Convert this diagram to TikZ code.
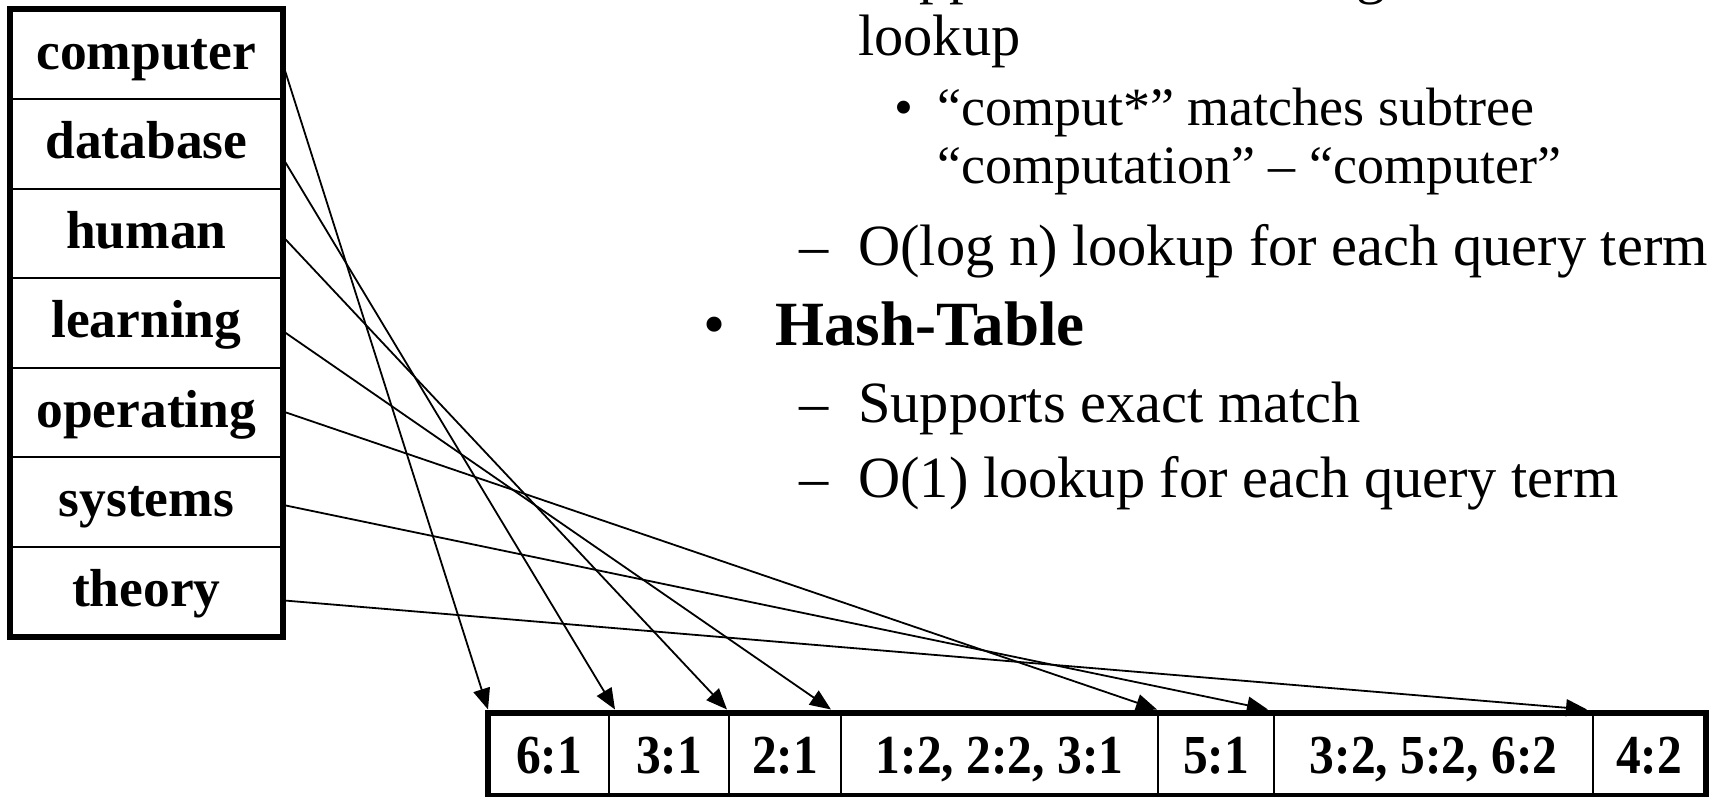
\documentclass[tikz,border=0pt]{standalone}
\usepackage{fontspec}
\setmainfont{Liberation Serif}
\newfontfamily\postingsfont[FakeStretch=0.9]{Liberation Serif}
\usetikzlibrary{arrows.meta}
\begin{document}
\begin{tikzpicture}[x=1pt,y=-1pt,
  term/.style={draw, line width=2.2pt, minimum width=270.5pt, minimum height=89.5pt,
    inner sep=0pt, font=\fontsize{53.5}{60}\selectfont\bfseries,
    text height=40pt, text depth=10pt, anchor=north west},
  post/.style={draw, line width=2.2pt, minimum height=81.5pt, inner sep=0pt,
    font=\postingsfont\fontsize{55}{60}\selectfont\bfseries,
    text height=44.8pt, text depth=6pt, anchor=north west},
  frame/.style={line width=6pt},
  link/.style={line width=1.8pt, -{Triangle[length=21pt,width=17pt]}},
  lvlone/.style={anchor=base west, inner sep=0pt, font=\fontsize{63}{68}\selectfont},
  lvltwo/.style={anchor=base west, inner sep=0pt, font=\fontsize{58.4}{63}\selectfont},
  lvlthree/.style={anchor=base west, inner sep=0pt, font=\fontsize{54}{58}\selectfont},
  ]
\useasboundingbox (0,0) rectangle (1709,796);
\clip (0,0) rectangle (1709,796);

% dictionary of terms
\node[term] (w1) at (10,8.5)   {computer};
\node[term] (w2) at (10,98)    {database};
\node[term] (w3) at (10,187.5) {human};
\node[term] (w4) at (10,277)   {learning};
\node[term] (w5) at (10,366.5) {operating};
\node[term] (w6) at (10,456)   {systems};
\node[term] (w7) at (10,545.5) {theory};
\draw[frame] (w1.north west) rectangle (w7.south east);

% postings lists
\node[post, minimum width=120pt] (p1) at (488,712.5)  {6:1};
\node[post, minimum width=120pt] (p2) at (608,712.5)  {3:1};
\node[post, minimum width=112pt] (p3) at (728,712.5)  {2:1};
\node[post, minimum width=317pt] (p4) at (840,712.5)  {1:2, 2:2, 3:1};
\node[post, minimum width=116pt] (p5) at (1157,712.5) {5:1};
\node[post, minimum width=319pt] (p6) at (1273,712.5) {3:2, 5:2, 6:2};
\node[post, minimum width=112pt] (p7) at (1592,712.5) {4:2};
\draw[frame] (p1.north west) rectangle (p7.south east);

% pointers from terms to their postings
\draw[link] ([yshift=-9pt]w1.east)  -- ([yshift=3pt]p1.north west);
\draw[link] ([yshift=-14pt]w2.east) -- ([xshift=7pt,yshift=3pt]p2.north west);
\draw[link] ([yshift=-3pt]w3.east)  -- ([xshift=-1pt,yshift=3pt]p3.north west);
\draw[link] ([yshift=-8pt]w4.east)  -- ([xshift=-9pt,yshift=3pt]p4.north west);
\draw[link] ([yshift=1pt]w5.east)   -- ([yshift=3pt]p5.north west);
\draw[link] ([yshift=-3pt]w6.east)  -- ([xshift=-5pt,yshift=3pt]p6.north west);
\draw[link] ([yshift=-9pt]w7.east)  -- ([xshift=-5pt,yshift=3pt]p7.north west);

% bullet text
\node[lvltwo] (d0) at (799,-8) {–};
\node[lvltwo] (t0) at (858,-8) {Supports exact or range-based};
\node[lvltwo] (t1) at (858,55) {lookup};
\node[lvlthree] (b2) at (894,125) {•};
\node[lvlthree] (t2) at (937,125) {“comput*” matches subtree};
\node[lvlthree] (t3) at (937,183) {“computation” – “computer”};
\node[lvltwo] (d4) at (799,265) {–};
\node[lvltwo] (t4) at (858,265) {O(log n) lookup for each query term};
\node[lvlone] (b5) at (703,345) {•};
\node[lvlone, font=\fontsize{63}{68}\selectfont\bfseries] (t5) at (775,345) {Hash-Table};
\node[lvltwo] (d6) at (799,422) {–};
\node[lvltwo] (t6) at (858,422) {Supports exact match};
\node[lvltwo] (d7) at (799,497) {–};
\node[lvltwo] (t7) at (858,497) {O(1) lookup for each query term};
\end{tikzpicture}
\end{document}
